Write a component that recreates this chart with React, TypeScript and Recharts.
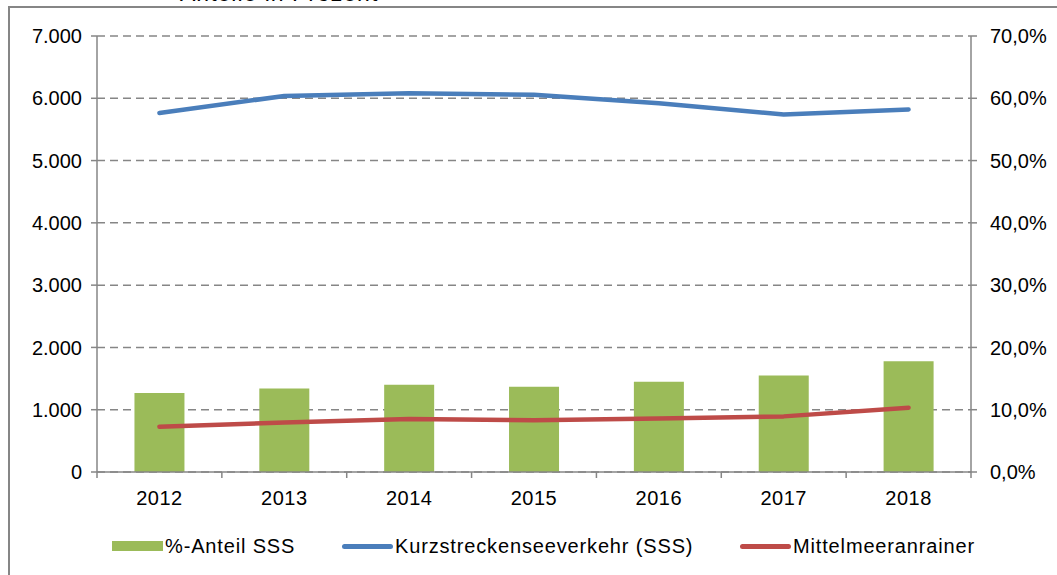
import React from 'react';
import { ComposedChart, Bar, Line, XAxis, YAxis, CartesianGrid, Legend } from 'recharts';

const years = ['2012', '2013', '2014', '2015', '2016', '2017', '2018'];
const anteilSSS = [12.7, 13.4, 14.0, 13.7, 14.5, 15.5, 17.8];
const kurzstrecken = [5764, 6037, 6080, 6055, 5920, 5740, 5820];
const mittelmeer = [728, 795, 850, 830, 860, 893, 1032];
const leftTicks = [0, 1000, 2000, 3000, 4000, 5000, 6000, 7000];
const rightTicks = [0, 10, 20, 30, 40, 50, 60, 70];

const data = years.map((year, i) => ({
  year,
  anteil: anteilSSS[i],
  sss: kurzstrecken[i],
  mittel: mittelmeer[i],
}));

const W = 1057;
const H = 575;
const LEFT_W = 97;
const RIGHT_W = 86;
const BAND = (W - LEFT_W - RIGHT_W) / years.length;
const FONT = '"Liberation Sans", Arial, sans-serif';
const AXIS = '#868686';

const fmtLeft = (v: number) => (v === 0 ? '0' : v.toLocaleString('de-DE'));
const fmtRight = (v: number) => `${v.toFixed(1).replace('.', ',')}%`;

const YearTick = ({ x, y, payload, index }: any) => (
  <g>
    <line x1={x - BAND / 2} x2={x - BAND / 2} y1={y} y2={y + 6} stroke={AXIS} strokeWidth={1.5} />
    {index === years.length - 1 && (
      <line x1={x + BAND / 2} x2={x + BAND / 2} y1={y} y2={y + 6} stroke={AXIS} strokeWidth={1.5} />
    )}
    <text x={x} y={y + 19} dy="0.71em" textAnchor="middle" fill="#000" fontSize={20} fontFamily={FONT} letterSpacing={0.5}>
      {payload.value}
    </text>
  </g>
);

const legendItems = [
  { name: '%-Anteil SSS', color: '#9BBB59', kind: 'bar', left: 112 },
  { name: 'Kurzstreckenseeverkehr (SSS)', color: '#4A7EBB', kind: 'line', left: 342 },
  { name: 'Mittelmeeranrainer', color: '#BE4B48', kind: 'line', left: 740 },
];

const ChartLegend = () => (
  <div style={{ position: 'relative', width: W, height: 58, fontFamily: FONT }}>
    {legendItems.map((item) => (
      <div
        key={item.name}
        style={{ position: 'absolute', left: item.left, top: 17, height: 24, display: 'flex', alignItems: 'center' }}
      >
        <span
          style={{
            display: 'inline-block',
            width: 51,
            height: item.kind === 'bar' ? 10 : 5,
            borderRadius: item.kind === 'bar' ? 0 : 3,
            background: item.color,
            marginRight: 2,
          }}
        />
        <span style={{ fontSize: 20, color: '#000', whiteSpace: 'nowrap', letterSpacing: 0.85 }}>{item.name}</span>
      </div>
    ))}
  </div>
);

export default function App() {
  return (
    <div style={{ position: 'absolute', left: 0, top: 0, width: W, height: H, overflow: 'hidden', background: '#fff', fontFamily: FONT }}>
      <div style={{ position: 'absolute', left: 8, top: 6, width: W, height: H, borderLeft: `2px solid ${AXIS}`, borderTop: `2px solid ${AXIS}` }} />
      <div style={{ position: 'absolute', left: 180, top: -18.5, fontSize: 23, lineHeight: 1, color: '#000', whiteSpace: 'nowrap', letterSpacing: 1 }}>
        Anteile in Prozent
      </div>
      <div style={{ position: 'absolute', left: 0, top: 0 }}>
        <ComposedChart width={W} height={H} data={data} margin={{ top: 36, right: 0, bottom: 0, left: 0 }} barCategoryGap="30%">
          <CartesianGrid yAxisId="left" vertical={false} stroke={AXIS} strokeWidth={1.5} strokeDasharray="8 5" />
          <XAxis
            dataKey="year"
            height={45}
            axisLine={{ stroke: AXIS, strokeWidth: 1.5 }}
            tickLine={false}
            tickSize={0}
            tickMargin={0}
            tick={<YearTick />}
            interval={0}
          />
          <YAxis
            yAxisId="left"
            width={LEFT_W}
            domain={[0, 7000]}
            ticks={leftTicks}
            tickFormatter={fmtLeft}
            axisLine={{ stroke: AXIS, strokeWidth: 1.5 }}
            tickLine={{ stroke: AXIS, strokeWidth: 1.5 }}
            tickSize={6}
            tickMargin={9}
            tick={{ fill: '#000', fontSize: 20, fontFamily: FONT }}
          />
          <YAxis
            yAxisId="right"
            orientation="right"
            width={RIGHT_W}
            domain={[0, 70]}
            ticks={rightTicks}
            tickFormatter={fmtRight}
            axisLine={{ stroke: AXIS, strokeWidth: 1.5 }}
            tickLine={{ stroke: AXIS, strokeWidth: 1.5 }}
            tickSize={6}
            tickMargin={13}
            tick={{ fill: '#000', fontSize: 20, fontFamily: FONT }}
          />
          <Legend height={58} wrapperStyle={{ left: 0, bottom: 0, width: W }} content={<ChartLegend />} />
          <Bar yAxisId="right" dataKey="anteil" name="%-Anteil SSS" fill="#9BBB59" isAnimationActive={false} />
          <Line
            yAxisId="left"
            type="linear"
            dataKey="sss"
            name="Kurzstreckenseeverkehr (SSS)"
            stroke="#4A7EBB"
            strokeWidth={4.5}
            strokeLinecap="round"
            strokeLinejoin="round"
            dot={false}
            isAnimationActive={false}
          />
          <Line
            yAxisId="left"
            type="linear"
            dataKey="mittel"
            name="Mittelmeeranrainer"
            stroke="#BE4B48"
            strokeWidth={4.5}
            strokeLinecap="round"
            strokeLinejoin="round"
            dot={false}
            isAnimationActive={false}
          />
        </ComposedChart>
      </div>
    </div>
  );
}
